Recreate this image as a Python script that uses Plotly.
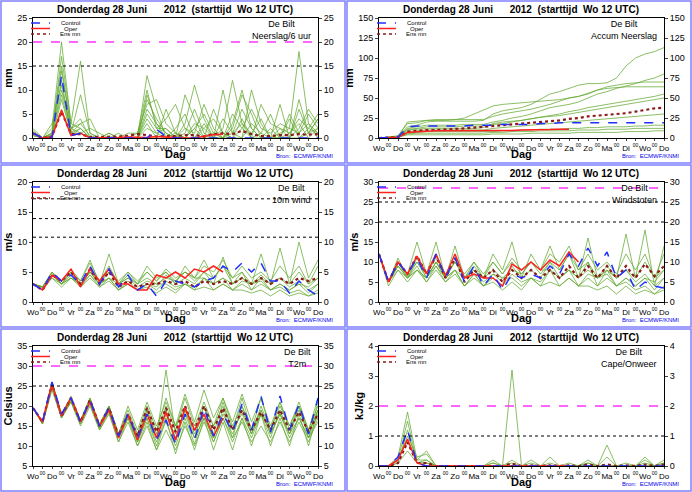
import plotly.graph_objs as go

# 12-hourly steps from Wo 12 UTC, 15 days
hours = list(range(0, 361, 12))
day_hours = list(range(0, 361, 24))
mid_hours = list(range(12, 361, 24))
day_names = ['Wo', 'Do', 'Vr', 'Za', 'Zo', 'Ma', 'Di', 'Wo', 'Do', 'Vr', 'Za', 'Zo', 'Ma', 'Di', 'Wo', 'Do']
mid_names = ['00'] * len(mid_hours)

# --- Neerslag/6 uur
rain_ctrl = [1, 0, 0.2, 13, 0.5, 1, 0, 0, 0, 0, 0, 0, 0, 1.8, 0.3, 0, 0, 0, 0, 0, 0, 0, 0, 0, 0, 0, 0, 0, 0, 0, 0]
rain_oper = [1, 0, 0.2, 5.8, 0.5, 1, 0, 0, 0, 0.1, 0.2, 0.1, 0.1, 0.3, 0.2, 0, 0, 0, 0.3, 0.7, 0.8]
rain_mean = [1, 0, 0.3, 5.5, 0.8, 0.8, 0.2, 0.2, 0.2, 0.3, 0.5, 0.8, 0.6, 0.3, 0.4, 0.4, 0.6, 0.6, 0.3, 0.8, 1, 0.8, 1.5, 0.8, 0.4, 0.4, 0.6, 0.6, 0.8, 0.7, 0.8]
rain_members = [
    [1.5, 0, 2, 20, 3, 16, 1, 0, 0, 0, 0, 0, 9, 3, 1, 0, 0, 2, 5, 1, 0, 3, 10, 2, 0, 0, 1, 2, 18, 3, 1],
    [1, 0, 1, 15, 2, 3, 4, 0, 0, 1, 0, 0, 13, 6, 0, 0, 3, 11, 4, 0, 2, 12, 3, 0, 1, 5, 0, 0, 8, 1, 4],
    [0.5, 0, 0.5, 12, 1, 2, 0, 0, 1, 0, 0, 1, 10, 2, 2, 0, 9, 4, 0, 6, 1, 0, 0, 10, 3, 0, 7, 0, 2, 6, 3],
    [1, 0, 0, 8, 1, 1, 2, 1, 0, 0, 1, 1, 7, 8, 3, 1, 0, 0, 2, 0, 4, 1, 6, 2, 0, 2, 0, 4, 0, 2, 5],
    [1, 0, 1, 17, 3, 2, 0, 0, 0, 0, 0, 0, 5, 2, 4, 7, 2, 0, 0, 0, 0, 2, 9, 5, 0, 0, 0, 1, 3, 0, 2],
    [2, 0, 3, 11, 1, 9, 1, 0, 0, 0, 0, 0, 2, 1, 0, 2, 5, 0, 3, 0, 0, 5, 2, 0, 7, 3, 2, 0, 0, 1, 2],
    [1, 0, 0.5, 6, 0.5, 2, 0, 0, 1, 0, 0, 0, 8, 4, 1, 0, 1, 6, 1, 0, 10, 1, 0, 3, 1, 0, 0, 5, 1, 3, 0],
    [0.5, 0, 1, 14, 2, 4, 0, 0, 0, 0, 0, 0, 3, 0, 6, 1, 0, 2, 0, 1, 0, 0, 4, 0, 0, 0, 0, 0, 6, 1, 4],
    [1, 0, 0.5, 9, 1, 3, 0.5, 0, 0, 0, 0, 0, 4, 1, 2, 0, 2, 1, 7, 2, 0, 1, 3, 1, 4, 0, 2, 1, 4, 2, 1],
    [1, 0, 1, 10, 2, 1, 0, 0, 0, 0, 0, 0, 6, 3, 0, 1, 0, 3, 2, 4, 1, 0, 2, 6, 2, 1, 3, 2, 1, 5, 2],
]

# --- Accum Neerslag
acc_ctrl = [0, 0.5, 1, 14, 15, 15, 15, 15, 15, 15, 16, 16, 16, 17, 17, 17, 17, 18, 18, 19, 19, 19, 19, 19, 19, 19, 19, 19, 19, 19, 19]
acc_oper = [0, 0.5, 1, 7, 8, 8.5, 9, 9, 9, 9, 9, 9, 9, 9.5, 9.5, 10, 10, 10, 10.5, 11, 11]
acc_mean = [0, 0.5, 1, 8, 9, 10, 10, 10.5, 11, 12, 13, 14, 15, 16, 17, 18, 19, 20, 21, 22, 24, 25, 27, 28, 29, 30, 31, 33, 35, 37, 38]
acc_members = [
    [0, 1, 2, 14, 16, 20, 21, 21, 21, 21, 21, 22, 30, 34, 36, 38, 42, 48, 55, 58, 62, 66, 68, 68, 69, 75, 90, 100, 105, 108, 113],
    [0, 1, 2, 12, 14, 16, 16, 16, 16, 17, 17, 17, 20, 22, 25, 27, 30, 34, 38, 40, 42, 45, 50, 55, 58, 62, 65, 68, 72, 75, 80],
    [0, 0.5, 1, 10, 11, 12, 12, 12, 12, 12, 12, 13, 18, 20, 21, 22, 24, 26, 28, 30, 33, 35, 38, 40, 42, 44, 46, 48, 50, 52, 55],
    [0, 0.5, 1, 8, 9, 10, 10, 10, 10, 10, 10, 10, 12, 13, 14, 15, 16, 17, 18, 19, 20, 21, 22, 23, 24, 25, 26, 27, 28, 29, 30],
    [0, 0.5, 1, 6, 7, 8, 8, 8, 8, 8, 8, 8, 8, 9, 9, 10, 10, 11, 11, 11, 12, 12, 13, 13, 14, 14, 14, 15, 15, 16, 16],
    [0, 1, 3, 18, 19, 22, 23, 23, 23, 23, 23, 23, 27, 30, 32, 34, 36, 39, 42, 46, 50, 52, 56, 60, 64, 66, 68, 69, 70, 70, 70],
    [0, 0.5, 1, 5, 6, 6, 6, 6, 6, 6, 6, 6, 7, 7, 8, 8, 8, 9, 9, 9, 9, 10, 10, 10, 11, 11, 11, 12, 12, 12, 12],
    [0, 1, 2, 11, 12, 14, 14, 14, 14, 15, 15, 15, 17, 18, 20, 22, 24, 26, 27, 28, 30, 32, 34, 36, 38, 40, 42, 44, 46, 48, 50],
    [0, 0.5, 2, 20, 21, 22, 22, 22, 23, 25, 30, 35, 40, 42, 43, 44, 45, 46, 47, 48, 50, 52, 55, 60, 62, 63, 64, 64, 64, 64, 64],
    [0, 0.5, 1, 4, 4, 4, 4, 4, 4, 4, 4, 4, 5, 5, 5, 5, 6, 6, 6, 6, 6, 7, 7, 7, 7, 7, 8, 8, 8, 9, 9],
]

# --- 10m wind
wind_ctrl = [3, 2, 5, 3.5, 4.5, 3, 6, 3, 5.5, 2.5, 4.5, 2, 3, 1, 3.5, 3.5, 3, 2.5, 3.5, 4, 6, 5, 6.5, 5, 6.5, 3.5, 3.5, 1.5, 3.5, 2, 1]
wind_oper = [3, 2, 4.5, 3.5, 5.5, 2.5, 5.5, 3.5, 5.5, 3, 3, 2, 2, 4.5, 4, 5, 4, 5.5, 5, 6, 5]
wind_mean = [3, 2, 4.5, 3.5, 5, 3, 5.5, 3, 5, 2.5, 3.5, 2.5, 3, 3, 3.5, 3, 3.5, 2.5, 3.5, 3, 3.5, 3, 4, 3, 4, 3, 4, 3, 4, 3.5, 4]
wind_members = [
    [3, 2.5, 5, 3, 5, 3, 5, 3, 4, 2, 3, 2, 3, 2.5, 4.5, 3, 6, 4, 7, 4, 6, 3, 5, 2, 4, 2, 3, 2, 3, 1.5, 3],
    [3, 2, 4, 2.5, 4, 3, 5, 3, 5, 3, 4, 3, 4, 3, 3, 2, 3, 2, 4, 3, 4, 2, 3, 2, 3, 2, 2.5, 1.5, 2, 1, 2],
    [3, 2.5, 4.5, 3.5, 5, 3.5, 6.5, 3.5, 6, 3, 5, 3, 6, 4, 5, 3, 4, 3, 5, 4, 6, 4, 5, 3, 8, 3, 9, 3, 10, 4, 7],
    [3, 2.5, 5, 3, 4.5, 2.5, 4, 2.5, 3.5, 2, 3, 2, 2.5, 1.5, 2.5, 1.5, 3, 2, 2.5, 2, 3, 2, 2, 1.5, 2, 1, 2, 1, 1.5, 1, 1.5],
    [3, 2.5, 4.5, 3, 5, 3, 5, 3.5, 5, 3.5, 5, 3.5, 5, 3.5, 5, 3.5, 5, 3.5, 5, 3, 4, 3, 4, 3, 4, 3, 4, 3, 5, 3, 4],
    [3, 2.5, 4, 3, 4, 3, 4.5, 3, 4, 3, 4, 2.5, 3.5, 3, 4, 3.5, 5, 4, 6, 5, 7, 4, 6, 4, 5, 3.5, 6, 4, 6, 3, 6],
    [3, 2.5, 4.5, 3, 4, 2.5, 4.5, 2.5, 4, 2, 3.5, 2, 3, 2, 3.5, 2.5, 3, 2.5, 4, 2, 3, 2, 3.5, 3, 4.5, 3, 4, 2.5, 3.5, 2, 3],
    [3, 2.5, 5, 3.5, 5.5, 3.5, 7, 3, 8, 3, 4.5, 3, 5, 3.5, 5.5, 4, 5, 4, 4, 3, 7.5, 3, 4, 3, 3.5, 2, 3, 2, 3, 2.5, 4],
]

# --- Windstoten
gust_ctrl = [12, 5, 10, 7, 11, 6, 12, 6, 11, 5, 9, 4, 7, 3, 7, 6, 7, 6, 9, 7, 12, 9, 13.5, 9, 12.5, 6, 8, 3, 5, 4, 3.5]
gust_oper = [12, 5, 10, 7, 11.5, 7, 12, 6.5, 12, 6, 7, 6, 6, 4, 9.5, 8, 10, 8, 10.5, 9, 12.5, 10]
gust_mean = [12, 5, 10, 7, 11.5, 7, 11.5, 6, 11, 5, 8, 6, 8, 5, 8, 6, 8, 6, 8, 6, 9, 6, 9, 6, 9, 6, 9, 6, 9.5, 6.5, 9]
gust_members = [
    [12, 5, 11, 6, 11, 6, 10, 6, 8, 4, 7, 4, 7, 5, 9, 6, 12, 8, 14, 8, 12, 6, 10, 4, 8, 4, 6, 4, 6, 3, 6],
    [12, 4, 8, 5, 8, 6, 10, 6, 10, 6, 8, 6, 8, 6, 6, 4, 6, 4, 8, 6, 8, 4, 6, 4, 6, 4, 5, 3, 4, 2, 4],
    [12, 5, 9, 7, 10, 7, 11, 7, 10, 6, 10, 6, 12, 8, 15, 6, 8, 6, 10, 8, 12, 8, 10, 6, 8, 6, 17, 6, 18, 4, 14],
    [12, 5, 10, 6, 9, 5, 8, 5, 7, 4, 6, 4, 5, 3, 5, 3, 6, 4, 5, 4, 6, 4, 4, 3, 4, 2, 4, 2, 3, 2, 3],
    [12, 5, 9, 6, 10, 6, 10, 7, 10, 7, 10, 7, 10, 7, 10, 7, 10, 7, 10, 6, 8, 6, 8, 6, 8, 6, 8, 6, 10, 6, 8],
    [12, 5, 8, 6, 8, 6, 9, 6, 8, 6, 8, 5, 7, 6, 8, 7, 10, 8, 12, 10, 14, 8, 12, 8, 10, 7, 12, 8, 12, 6, 12],
    [12, 5, 9, 6, 8, 5, 9, 5, 8, 4, 7, 4, 6, 4, 7, 5, 6, 5, 8, 4, 6, 4, 7, 6, 9, 6, 8, 5, 7, 4, 6],
    [12, 5, 10, 7, 15, 7, 15, 6, 14, 6, 9, 6, 10, 7, 11, 8, 10, 8, 8, 6, 8, 6, 16, 6, 7, 4, 6, 4, 6, 5, 8],
]

# --- T2m
t2m_ctrl = [19.5, 16, 26, 18, 22, 16, 21.5, 15, 19.5, 12.5, 18, 12, 18, 11.5, 16.5, 10.5, 18, 11.5, 19.5, 12.5, 18, 13.5, 20.5, 14, 22.5, 13.5, 22.5, 14, 20.5, 13, 22]
t2m_oper = [19.5, 16, 25.5, 17.5, 22, 16, 21, 15, 19, 12, 18, 11.5, 18, 12, 18.5, 11.5, 19.5, 14, 18, 12.5, 17]
t2m_mean = [19.5, 16, 25.5, 17.5, 22, 16, 21.5, 15, 19.5, 12.5, 18, 12.5, 19.5, 13.5, 19.5, 13.5, 20, 14, 20, 14, 19.5, 14, 19, 14, 18.5, 14, 19, 14, 18.5, 13.5, 18]
t2m_members = [
    [19.5, 16, 26, 18, 22.5, 16.5, 22, 15.5, 20, 13, 19, 13, 20, 14, 22, 15, 23, 16, 24, 17, 22, 15, 20, 14, 19, 13, 18, 13, 17, 12, 18],
    [19.5, 15.5, 25, 17, 21.5, 15.5, 21, 14.5, 19, 12, 17, 11, 17, 11, 16, 10, 17, 10.5, 18, 11, 17, 11, 17, 12, 18, 12, 19, 13, 20, 12, 21],
    [19.5, 16, 25.5, 18, 22, 16, 22, 15, 20, 13, 20, 14, 21, 15, 21, 15, 20, 14, 20, 15, 22, 16, 23, 16, 22, 15, 21, 15, 20, 14, 20],
    [19.5, 15.5, 25, 17, 21, 15.5, 20.5, 14, 18.5, 11, 16, 10, 15, 9, 14, 9, 15, 10, 16, 11, 17, 12, 16, 11, 15, 11, 16, 11, 16, 11, 17],
    [19.5, 16, 26, 18, 22, 16, 21.5, 15, 19.5, 12.5, 18, 12.5, 19, 13, 20, 14, 22, 15, 21, 15, 20, 14, 18, 13, 18, 14, 20, 15, 21, 14, 22],
    [19.5, 16, 25.5, 17.5, 22, 16.5, 21.5, 15.5, 20, 13, 18, 12, 18, 12, 19, 12, 18, 12, 17, 12, 18, 13, 19, 13, 20, 14, 18, 12, 17, 12, 16],
    [19.5, 16, 25, 17.5, 21.5, 16, 21, 15, 19, 12, 17.5, 11.5, 19, 12, 29, 13, 19, 13, 18, 12, 19, 12, 20, 13, 19, 13, 18, 13, 19, 13, 19],
    [19.5, 16, 26, 17.5, 22, 16, 21.5, 14.5, 19.5, 12, 18, 11, 17, 10, 18, 11, 19, 12, 20, 13, 21, 14, 22, 14, 22, 14, 21, 14, 20, 13, 19],
    [19.5, 15.5, 24, 17, 21, 15, 20, 14, 18, 11, 17, 10, 16, 9, 17, 8, 16, 9, 17, 9, 16, 9, 17, 10, 18, 10, 17, 10, 18, 10, 19],
]

# --- Cape/Onweer
cape_ctrl = [0, 0, 0.3, 1.2, 0.1, 0, 0, 0, 0, 0, 0, 0, 0, 0, 0, 0, 0, 0, 0, 0, 0, 0, 0, 0, 0, 0, 0, 0, 0, 0, 0]
cape_oper = [0, 0, 0.2, 0.9, 0.1, 0, 0, 0, 0, 0, 0, 0, 0, 0, 0, 0, 0, 0, 0, 0, 0]
cape_mean = [0, 0, 0.1, 0.8, 0.1, 0.1, 0, 0, 0, 0, 0, 0, 0.02, 0, 0.08, 0, 0.02, 0, 0.02, 0, 0.02, 0, 0.05, 0, 0.05, 0, 0.02, 0, 0.05, 0, 0.05]
cape_members = [
    [0, 0, 0.3, 1.8, 0.2, 0.5, 0, 0, 0, 0, 0, 0, 0.1, 0, 3.2, 0, 0.1, 0, 0, 0, 0, 0, 0.1, 0, 0, 0, 0, 0, 0.2, 0, 0.1],
    [0, 0, 0.2, 1.5, 0.1, 0.2, 0, 0, 0, 0, 0, 0, 0, 0, 0.2, 0, 0, 0, 0.3, 0, 0, 0, 0, 0, 0.7, 0, 0, 0, 0, 0, 0.2],
    [0, 0, 0.1, 1.2, 0.1, 0.1, 0, 0, 0, 0, 0, 0, 0.2, 0, 0, 0, 0, 0, 0, 0, 0.1, 0, 0, 0, 0.3, 0, 0, 0, 0.3, 0, 0],
    [0, 0, 0.2, 1.0, 0.3, 0.4, 0, 0, 0, 0, 0, 0, 0, 0, 0.1, 0, 0, 0, 0.1, 0, 0, 0, 0.2, 0, 0, 0, 0, 0, 0, 0, 0.1],
    [0, 0, 0.3, 0.8, 0.2, 0.2, 0, 0, 0, 0, 0, 0, 0.1, 0, 0, 0, 0.2, 0, 0, 0, 0, 0, 0, 0, 0, 0, 0.1, 0, 0, 0, 0],
    [0, 0, 0.1, 0.5, 0.1, 0.1, 0, 0, 0, 0, 0, 0, 0, 0, 0, 0, 0, 0, 0, 0, 0, 0, 0.1, 0, 0, 0, 0, 0, 0.1, 0, 0],
]

panels = [
    dict(name='Neerslag/6 uur', unit='mm', rng=[0, 25], dt=5, magenta=[20], dotted=[15],
         ctrl=rain_ctrl, oper=rain_oper, mean=rain_mean, members=rain_members),
    dict(name='Accum Neerslag', unit='mm', rng=[0, 150], dt=25, magenta=[], dotted=[],
         ctrl=acc_ctrl, oper=acc_oper, mean=acc_mean, members=acc_members),
    dict(name='10m wind', unit='m/s', rng=[0, 20], dt=5, magenta=[], dotted=[10.8, 13.9, 17.2],
         ctrl=wind_ctrl, oper=wind_oper, mean=wind_mean, members=wind_members),
    dict(name='Windstoten', unit='m/s', rng=[0, 30], dt=5, magenta=[28.5], dotted=[20, 25],
         ctrl=gust_ctrl, oper=gust_oper, mean=gust_mean, members=gust_members),
    dict(name='T2m', unit='Celsius', rng=[5, 35], dt=5, magenta=[30], dotted=[25],
         ctrl=t2m_ctrl, oper=t2m_oper, mean=t2m_mean, members=t2m_members),
    dict(name='Cape/Onweer', unit='kJ/kg', rng=[0, 4], dt=1, magenta=[2], dotted=[1],
         ctrl=cape_ctrl, oper=cape_oper, mean=cape_mean, members=cape_members),
]

W, H = 692, 492
fig = go.Figure()
layout = dict(width=W, height=H, margin=dict(l=0, r=0, t=0, b=0),
              paper_bgcolor='white', plot_bgcolor='white', showlegend=False,
              font=dict(family='Liberation Sans', color='black', size=9))
shapes = []
annotations = []
fnt = 'Liberation Sans'

for k, p in enumerate(panels):
    col = k % 2
    row = k // 2
    px0 = col * 346
    py0 = row * 164
    x0, x1 = (px0 + 33) / W, (px0 + 318) / W
    y1, y0 = 1 - (py0 + 18) / H, 1 - (py0 + 138) / H
    n = k + 1
    xa, ya = 'x%d' % n, 'y%d' % n
    xa2 = 'x%d' % (n + 6)
    # panel frame
    shapes.append(dict(type='rect', xref='paper', yref='paper',
                       x0=(px0 + 1) / W, x1=(px0 + 345) / W,
                       y0=1 - (py0 + 163) / H, y1=1 - (py0 + 1) / H,
                       line=dict(color='#8080ff', width=1.5)))
    for m in p['members']:
        fig.add_trace(go.Scatter(x=hours[:len(m)], y=m, mode='lines', xaxis=xa, yaxis=ya,
                                 line=dict(color='rgba(100,170,50,0.75)', width=1)))
    fig.add_trace(go.Scatter(x=hours, y=p['mean'], mode='lines', xaxis=xa, yaxis=ya,
                             line=dict(color='#8b1a1a', width=2.2, dash='dot')))
    fig.add_trace(go.Scatter(x=hours[:len(p['oper'])], y=p['oper'], mode='lines', xaxis=xa, yaxis=ya,
                             line=dict(color='#ff2020', width=1.5)))
    fig.add_trace(go.Scatter(x=hours, y=p['ctrl'], mode='lines', xaxis=xa, yaxis=ya,
                             line=dict(color='#2030ff', width=1.5, dash='dash')))
    for v in p['magenta']:
        fig.add_trace(go.Scatter(x=[0, 360], y=[v, v], mode='lines', xaxis=xa, yaxis=ya,
                                 line=dict(color='#ff33ff', width=1.5, dash='dash')))
    for v in p['dotted']:
        fig.add_trace(go.Scatter(x=[0, 360], y=[v, v], mode='lines', xaxis=xa, yaxis=ya,
                                 line=dict(color='black', width=1, dash='dot')))
    tv = list(range(p['rng'][0], p['rng'][1] + 1, p['dt']))
    common_y = dict(range=p['rng'], tickvals=tv, showgrid=False, zeroline=False, ticks='outside',
                    ticklen=3, tickfont=dict(size=9, family=fnt), showline=True, linecolor='black',
                    automargin=False)
    layout['xaxis%d' % n] = dict(domain=[x0, x1], anchor=ya, range=[0, 360], tickvals=day_hours,
                                 ticktext=day_names, tickangle=0, showgrid=False, zeroline=False,
                                 ticks='outside', ticklen=2, showline=True, linecolor='black',
                                 mirror=True, tickfont=dict(size=8, family=fnt), automargin=False)
    layout['xaxis%d' % (n + 6)] = dict(overlaying=xa, anchor=ya, side='bottom', range=[0, 360],
                                       tickvals=mid_hours, ticktext=mid_names, tickangle=0,
                                       showgrid=False, zeroline=False, ticks='outside', ticklen=2,
                                       showline=False, tickfont=dict(size=5, family=fnt), automargin=False)
    layout['yaxis%d' % n] = dict(domain=[y0, y1], anchor=xa,
                                 title=dict(text='<b>%s</b>' % p['unit'], font=dict(size=11, family=fnt), standoff=2),
                                 **common_y)
    layout['yaxis%d' % (n + 6)] = dict(overlaying=ya, side='right', anchor=xa, **common_y)
    fig.add_trace(go.Scatter(x=[0], y=[p['rng'][0]], mode='markers', xaxis=xa2, yaxis='y%d' % (n + 6),
                             marker=dict(opacity=0), hoverinfo='skip'))
    # title
    annotations.append(dict(xref='paper', yref='paper', x=(px0 + 175) / W, y=1 - (py0 + 2) / H,
                            xanchor='center', yanchor='top', showarrow=False,
                            text='<b>Donderdag 28 Juni      2012  (starttijd  Wo 12 UTC)</b>',
                            font=dict(size=10, family=fnt)))
    annotations.append(dict(xref='paper', yref='paper', x=(px0 + 175) / W, y=1 - (py0 + 162) / H,
                            xanchor='center', yanchor='bottom', showarrow=False,
                            text='<b>Dag</b>', font=dict(size=11, family=fnt)))
    annotations.append(dict(xref='paper', yref='paper', x=(px0 + 313) / W, y=1 - (py0 + 17) / H,
                            xanchor='right', yanchor='top', showarrow=False, align='center',
                            text='De Bilt<br>%s' % p['name'], font=dict(size=9, family=fnt)))
    annotations.append(dict(xref='paper', yref='paper', x=(px0 + 335) / W, y=1 - (py0 + 156) / H,
                            xanchor='right', yanchor='middle', showarrow=False,
                            text='Bron:  ECMWF/KNMI', font=dict(size=6, family=fnt, color='#0000ee')))
    # mini legend
    leg = [('Control', '#2030ff', 'dash'), ('Oper', '#ff2020', 'solid'), ('Ens mn', '#8b1a1a', 'dot')]
    for j, (lab, c, d) in enumerate(leg):
        yy = 1 - (py0 + 23 + j * 5.5) / H
        shapes.append(dict(type='line', xref='paper', yref='paper', x0=(px0 + 31) / W, x1=(px0 + 50) / W,
                           y0=yy, y1=yy, line=dict(color=c, width=1.5, dash=d)))
        annotations.append(dict(xref='paper', yref='paper', x=(px0 + 70) / W, y=yy,
                                xanchor='center', yanchor='middle', showarrow=False,
                                text=lab, font=dict(size=6, family=fnt)))

layout['shapes'] = shapes
layout['annotations'] = annotations
fig.update_layout(**layout)
fig.write_html("out.html", config={'displayModeBar': False},
               post_script="document.body.style.margin='0';document.body.style.overflow='hidden';")
